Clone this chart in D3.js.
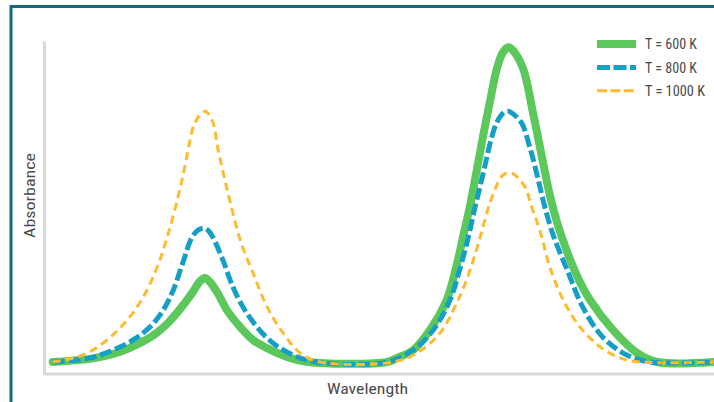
<!DOCTYPE html>
<html><head><meta charset="utf-8">
<script src="https://cdn.jsdelivr.net/npm/d3@7/dist/d3.min.js"></script>
<style>html,body{margin:0;padding:0;background:#fff;}svg{display:block;}</style>
</head><body><svg id="c" width="714" height="402"></svg>
<script>
// Data (wavelength in arbitrary units, absorbance in arbitrary units)
const seriesNames = ["T = 600 K", "T = 800 K", "T = 1000 K"];
const wl600 = [1.3,6.9,8.4,11.3,14.3,16.6,18.5,20.3,22.2,23.1,24.0,24.9,26.0,27.3,29.3,31.2,33.3,36.3,39.3,51.2,52.7,55.1,57.6,60.1,61.6,62.5,63.6,64.6,65.5,66.6,67.6,68.5,69.3,70.0,71.5,73.0,74.5,75.5,76.7,78.1,79.7,81.5,84.9,88.5,91.5,99.9];
const ab600 = [0.0,0.010,0.016,0.032,0.060,0.089,0.124,0.168,0.222,0.252,0.267,0.251,0.216,0.165,0.111,0.070,0.044,0.016,0.0,0.0,0.013,0.038,0.102,0.197,0.308,0.394,0.498,0.610,0.714,0.832,0.933,0.984,1.0,0.990,0.933,0.790,0.632,0.530,0.435,0.349,0.267,0.197,0.102,0.029,0.0,0.0];
const wl800 = [1.3,6.9,10.3,13.3,15.8,17.8,19.3,20.7,22.1,23.0,23.9,24.6,25.2,26.7,28.2,29.7,31.8,34.2,37.2,40.7,51.2,55.1,58.1,60.6,62.1,63.3,64.3,65.2,66.0,66.7,67.6,68.5,69.3,70.1,71.3,72.5,73.6,74.6,76.0,78.1,80.4,83.4,87.0,90.4,99.9];
const ab800 = [0.0,0.013,0.038,0.070,0.111,0.165,0.229,0.314,0.397,0.419,0.425,0.416,0.397,0.324,0.238,0.175,0.111,0.060,0.022,0.0,0.0,0.038,0.102,0.197,0.298,0.394,0.489,0.568,0.641,0.705,0.762,0.790,0.797,0.787,0.759,0.683,0.594,0.505,0.403,0.292,0.175,0.079,0.022,0.0,0.0];
const wl1000 = [1.3,5.8,9.4,12.4,14.8,16.9,18.4,20.0,21.0,21.8,22.5,24.0,25.1,26.0,27.0,27.8,29.3,31.2,33.3,35.7,38.2,41.2,52.1,55.7,59.1,61.6,63.6,65.1,66.6,68.1,68.7,69.4,70.1,71.8,72.8,74.0,75.5,77.5,80.0,83.0,86.0,89.0,99.9];
const ab1000 = [0.0,0.022,0.070,0.133,0.206,0.302,0.397,0.524,0.619,0.705,0.759,0.797,0.768,0.673,0.578,0.508,0.387,0.283,0.175,0.092,0.029,0.0,0.0,0.029,0.092,0.187,0.292,0.397,0.508,0.584,0.597,0.600,0.597,0.556,0.492,0.419,0.302,0.197,0.111,0.048,0.013,0.0,0.0];
const xLabel = "Wavelength";
const yLabel = "Absorbance";

const colors = ["#5cc85c", "#159fc7", "#fdbb2d"];
const widths = [8, 5, 3];
const dashes = [null, "12,4", "8,5"];

const svg = d3.select("#c");
const FONT = "'Liberation Sans Narrow','Roboto Condensed','DejaVu Sans Condensed',Roboto,Arial,sans-serif";

// outer frame
svg.append("rect").attr("x", 11).attr("y", 6.5).attr("width", 800).attr("height", 500)
  .attr("fill", "none").attr("stroke", "#17697b").attr("stroke-width", 3);

const x = d3.scaleLinear().domain([0, 100]).range([44, 714]);
const y = d3.scaleLinear().domain([-0.04, 1.02]).range([374.6, 41]);

// axes lines (no ticks)
const xAxis = d3.axisBottom(x).tickValues([]).tickSizeOuter(0);
const yAxis = d3.axisLeft(y).tickValues([]).tickSizeOuter(0);
const gx = svg.append("g").attr("transform", `translate(0,${y(-0.04) - 1})`).call(xAxis);
const gy = svg.append("g").attr("transform", `translate(${x(0)},0)`).call(yAxis);
[gx, gy].forEach(g => g.select(".domain").attr("stroke", "#dadada").attr("stroke-width", 3));

const line = d3.line().x(d => x(d[0])).y(d => y(d[1])).curve(d3.curveCatmullRom.alpha(0.5));
const data = [d3.zip(wl600, ab600), d3.zip(wl800, ab800), d3.zip(wl1000, ab1000)];
data.forEach((pts, i) => {
  const p = svg.append("path").datum(pts).attr("d", line)
    .attr("fill", "none").attr("stroke", colors[i]).attr("stroke-width", widths[i])
    .attr("stroke-linejoin", "round").attr("stroke-linecap", i === 0 ? "round" : "butt");
  if (dashes[i]) p.attr("stroke-dasharray", dashes[i]);
});

// legend
const legDash = [null, "13,3.5", "10,3.3"];
const legLen = [52, 52, 60];
seriesNames.forEach((name, i) => {
  const gy0 = 44 + i * 23.4;
  const l = svg.append("line").attr("x1", 597).attr("x2", 636).attr("y1", gy0).attr("y2", gy0)
    .attr("stroke", colors[i]).attr("stroke-width", widths[i]);
  if (legDash[i]) l.attr("stroke-dasharray", legDash[i]);
  svg.append("text").attr("x", 645).attr("y", gy0 + 5.2).text(name)
    .attr("font-family", FONT).attr("font-size", 14).attr("fill", "#4a4a4a")
    .attr("textLength", legLen[i]).attr("lengthAdjust", "spacingAndGlyphs");
});

// axis titles
svg.append("text").attr("x", 327).attr("y", 394).text(xLabel)
  .attr("font-family", FONT).attr("font-size", 15).attr("fill", "#4a4a4a")
  .attr("textLength", 81).attr("lengthAdjust", "spacingAndGlyphs");
svg.append("text").attr("transform", "translate(35,238) rotate(-90)").text(yLabel)
  .attr("font-family", FONT).attr("font-size", 15).attr("fill", "#4a4a4a")
  .attr("textLength", 85).attr("lengthAdjust", "spacingAndGlyphs");
</script></body></html>
